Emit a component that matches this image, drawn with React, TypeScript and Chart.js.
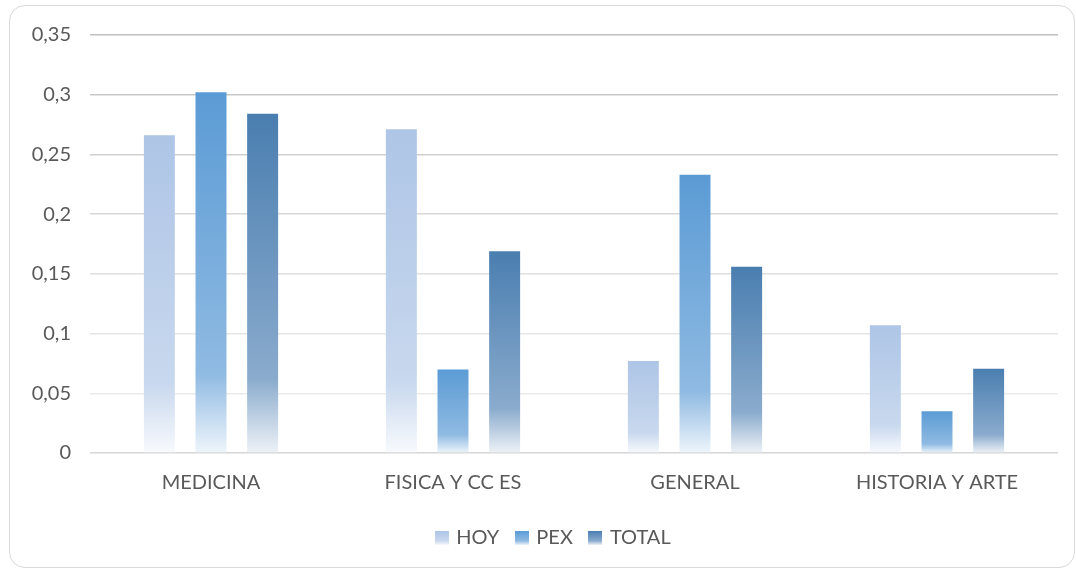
import React, { useEffect, useRef } from "react";
import { Chart, registerables } from "chart.js";

Chart.register(...registerables);

const categories = ["MEDICINA", "FISICA Y CC ES", "GENERAL", "HISTORIA Y ARTE"];
const seriesNames = ["HOY", "PEX", "TOTAL"];
const hoyValues = [0.266, 0.271, 0.077, 0.107];
const pexValues = [0.302, 0.07, 0.233, 0.035];
const totalValues = [0.284, 0.169, 0.156, 0.0705];
const yTicks = [0, 0.05, 0.1, 0.15, 0.2, 0.25, 0.3, 0.35];

// gradient stops per series: top, mid, bottom
const gradients = [
  ["#aec5e6", "#c8d8ee", "#f8fafd"],
  ["#5b9bd5", "#8fbae2", "#eef5fb"],
  ["#4a7eb0", "#8aabcd", "#eef2f7"],
];

const gridColors = ["#d6d6d6", "#ebebeb", "#e6e6e6", "#dfdfdf", "#d7d7d7", "#cfcfcf", "#c8c8c8", "#c0c0c0"];

const FONT = "Lato";

function makeSwatch(stops: string[]) {
  const c = document.createElement("canvas");
  c.width = 14;
  c.height = 14;
  const x = c.getContext("2d")!;
  const g = x.createLinearGradient(0, 0, 0, 14);
  g.addColorStop(0, stops[0]);
  g.addColorStop(0.7, stops[1]);
  g.addColorStop(1, stops[2]);
  x.fillStyle = g;
  x.fillRect(0, 0, 14, 14);
  return c;
}

const legendShift = {
  id: "legendShift",
  afterLayout(chart: any) {
    if (chart.legend) {
      chart.legend.left += 25;
      chart.legend.right += 25;
    }
  },
};

export default function App() {
  const ref = useRef<HTMLCanvasElement>(null);

  useEffect(() => {
    if (!ref.current) return;
    const seriesValues = [hoyValues, pexValues, totalValues];
    const swatches = gradients.map(makeSwatch);

    const bg = (si: number) => (ctx: any) => {
      const chart = ctx.chart;
      const stops = gradients[si];
      if (!chart.chartArea || ctx.type !== "data" || !chart.scales.y) return stops[0];
      const ys = chart.scales.y;
      const v = ctx.raw as number;
      const yTop = ys.getPixelForValue(v);
      const yBase = ys.getPixelForValue(0);
      if (!isFinite(yTop) || !isFinite(yBase) || yBase - yTop < 1) return stops[0];
      const g = chart.ctx.createLinearGradient(0, yTop, 0, yBase);
      g.addColorStop(0, stops[0]);
      g.addColorStop(0.78, stops[1]);
      g.addColorStop(1, stops[2]);
      return g;
    };

    const chart = new Chart(ref.current, {
      type: "bar",
      data: {
        labels: categories,
        datasets: seriesNames.map((name, i) => ({
          label: name,
          data: seriesValues[i],
          backgroundColor: bg(i),
          borderWidth: 0,
          categoryPercentage: 0.64,
          barPercentage: 0.6,
        })),
      },
      plugins: [legendShift],
      options: {
        animation: false,
        responsive: false,
        maintainAspectRatio: false,
        layout: { padding: { left: 0, right: 18, top: 35, bottom: 11 } },
        plugins: {
          tooltip: { enabled: false },
          legend: {
            position: "bottom",
            labels: {
              font: { family: FONT, size: 20 },
              color: "#595959",
              usePointStyle: true,
              pointStyleWidth: 9,
              padding: 18,
              generateLabels: (ch: any) =>
                ch.data.datasets.map((ds: any, i: number) => ({
                  text: ds.label,
                  fillStyle: gradients[i][0],
                  strokeStyle: "transparent",
                  lineWidth: 0,
                  pointStyle: swatches[i],
                  hidden: false,
                  datasetIndex: i,
                  fontColor: "#595959",
                })),
            },
          },
        },
        scales: {
          x: {
            grid: { display: false },
            border: { display: false },
            ticks: {
              font: { family: FONT, size: 20 },
              color: "#595959",
              padding: 10,
              maxRotation: 0,
            },
            afterFit: (s: any) => {
              s.height = 57;
            },
          },
          y: {
            min: 0,
            max: 0.35,
            afterBuildTicks: (s: any) => {
              s.ticks = yTicks.map((v) => ({ value: v }));
            },
            border: { display: false },
            grid: {
              drawTicks: false,
              color: (c: any) => gridColors[c.index] || "#d9d9d9",
              lineWidth: 1.5,
            },
            ticks: {
              font: { family: FONT, size: 20 },
              color: "#595959",
              padding: 19,
              callback: (v: any) => String(Math.round(Number(v) * 100) / 100).replace(".", ","),
            },
            afterFit: (s: any) => {
              s.width = 90;
            },
          },
        },
      },
    });
    return () => chart.destroy();
  }, []);

  return (
    <div style={{ position: "fixed", left: 0, top: 0, width: 1076, height: 569, background: "#fff" }}>
      <div
        style={{
          position: "absolute",
          left: 9,
          top: 5,
          width: 1066,
          height: 563,
          border: "1.5px solid #d9d9d9",
          borderRadius: 16,
          boxSizing: "border-box",
        }}
      />
      <canvas ref={ref} width={1076} height={569} style={{ position: "absolute", left: 0, top: 0, width: 1076, height: 569 }} />
    </div>
  );
}
